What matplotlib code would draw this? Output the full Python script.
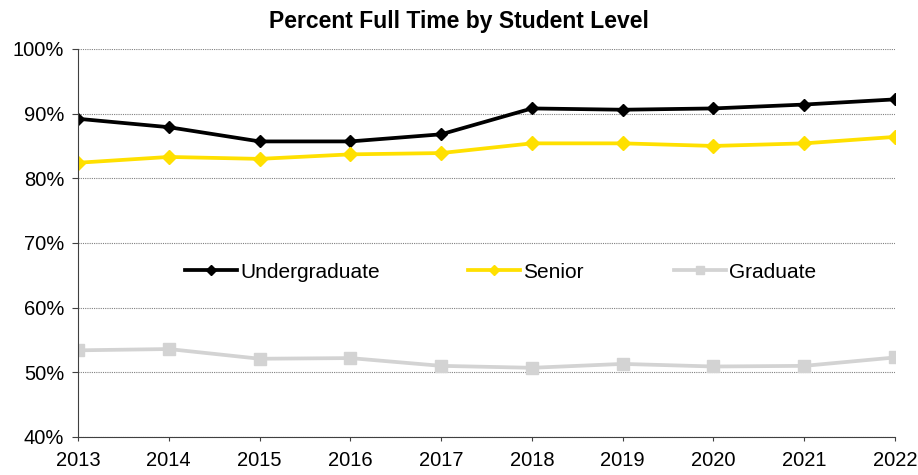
import matplotlib.pyplot as plt
from matplotlib.legend import Legend
from matplotlib.ticker import FuncFormatter

plt.rcParams['font.family'] = ['Liberation Sans', 'DejaVu Sans']

years = [2013, 2014, 2015, 2016, 2017, 2018, 2019, 2020, 2021, 2022]
undergrad = [89.2, 87.9, 85.7, 85.7, 86.8, 90.8, 90.6, 90.8, 91.4, 92.2]
senior = [82.4, 83.3, 83.0, 83.7, 83.9, 85.4, 85.4, 85.0, 85.4, 86.4]
graduate = [53.4, 53.6, 52.1, 52.2, 51.0, 50.7, 51.3, 50.9, 51.0, 52.3]

fig = plt.figure(figsize=(9.18, 4.75), dpi=100)
ax = fig.add_axes([0.085, 0.08, 0.89, 0.817])

l1, = ax.plot(years, undergrad, color='black', lw=2.7, marker='D', ms=6.5, label='Undergraduate')
l2, = ax.plot(years, senior, color='#FFE000', lw=2.7, marker='D', ms=7, label='Senior')
l3, = ax.plot(years, graduate, color='#D3D3D3', lw=2.7, marker='s', ms=8, label='Graduate')

ax.set_xlim(2013, 2022)
ax.set_ylim(40, 100)
ax.set_yticks(range(40, 101, 10))
ax.set_xticks(years)
ax.yaxis.set_major_formatter(FuncFormatter(lambda v, p: f'{v:.0f}%'))
ax.grid(axis='y', color='#808080', ls=(0, (1, 1)), lw=0.8)
ax.set_axisbelow(True)

for s in ['top', 'right']:
    ax.spines[s].set_visible(False)
ax.spines['left'].set_color('#404040')
ax.spines['bottom'].set_color('#404040')
ax.tick_params(axis='y', length=4, labelsize=14.5, direction='out', pad=6, color='#404040')
ax.tick_params(axis='x', length=3, labelsize=14.5, direction='out', pad=7, color='#404040')

fig.text(0.5, 0.955, 'Percent Full Time by Student Level', ha='center', va='center',
         fontsize=16.5, fontweight='bold')

# three legend entries placed like the original
for line, xpos in [(l1, 0.131), (l2, 0.477), (l3, 0.729)]:
    leg = Legend(ax, [line], [line.get_label()], loc='center left',
                 bbox_to_anchor=(xpos, 0.425), frameon=False, fontsize=15,
                 handlelength=2.5, handletextpad=0.15, borderpad=0,
                 borderaxespad=0, markerscale=0.75)
    ax.add_artist(leg)

fig.savefig('out.png', dpi=100)
